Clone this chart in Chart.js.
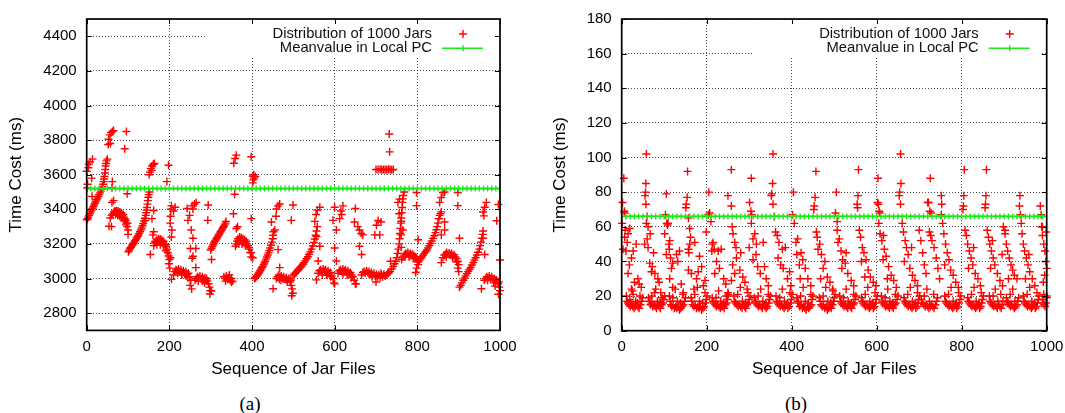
<!DOCTYPE html>
<html><head><meta charset="utf-8">
<script src="https://cdn.jsdelivr.net/npm/chart.js@4.4.1/dist/chart.umd.min.js"></script>
<style>
html,body{margin:0;padding:0;background:#fff;width:1065px;height:413px;overflow:hidden}
.wrap{position:absolute;top:0}
#wa{left:0;width:532px;height:385px}
#wb{left:532px;width:540px;height:385px}
.cap{position:absolute;top:393px;line-height:22px;font-family:"Liberation Serif","DejaVu Serif",serif;font-size:19px;color:#000;transform:translateX(-50%)}
</style></head><body>
<div class="wrap" id="wa"><canvas id="ca" width="532" height="385"></canvas></div>
<div class="wrap" id="wb"><canvas id="cb" width="540" height="385"></canvas></div>
<div class="cap" style="left:250px">(a)</div>
<div class="cap" style="left:796px">(b)</div>
<script>
const seqTicks = [0,200,400,600,800,1000];
const costTicksA = [2800,3000,3200,3400,3600,3800,4000,4200,4400];
const costTicksB = [0,20,40,60,80,100,120,140,160,180];
const seriesNames = ["Distribution of 1000 Jars","Meanvalue in Local PC"];
const meanA = 3520;
const meanB = 66;
const meanSeq = [0,10,20,30,40,50,60,70,80,90,100,110,120,130,140,150,160,170,180,190,200,210,220,230,240,250,260,270,280,290,300,310,320,330,340,350,360,370,380,390,400,410,420,430,440,450,460,470,480,490,500,510,520,530,540,550,560,570,580,590,600,610,620,630,640,650,660,670,680,690,700,710,720,730,740,750,760,770,780,790,800,810,820,830,840,850,860,870,880,890,900,910,920,930,940,950,960,970,980,990,1000];

const jarCostA = [
[0,3620],[1,3525],[2,3545],[4,3640],[5,3660],[8,3675],[14,3690],[12,3580],[13,3475],
[0,3340],[2,3345],[4,3355],[6,3365],[8,3375],[10,3385],[12,3395],[14,3405],[16,3415],[18,3425],[20,3435],[22,3445],[24,3455],[26,3465],[28,3475],[30,3485],[32,3495],[34,3505],[36,3515],[38,3530],[40,3545],[41,3560],[42,3575],[43,3590],[44,3610],[45,3630],[46,3650],[47,3665],[48,3680],[50,3690],
[52,3775],[53,3805],[56,3830],[59,3843],[62,3850],[65,3855],[57,3780],
[61,3525],[62,3560],[61,3440],[65,3450],[54,3302],[60,3300],
[57,3350],[60,3365],[63,3375],[66,3385],[68,3390],[70,3385],[72,3392],[74,3380],[76,3390],[78,3375],[80,3385],[82,3370],[84,3380],[86,3365],[88,3370],[90,3355],[92,3345],[94,3335],[96,3320],[98,3300],[70,3370],[75,3365],[80,3360],[85,3350],[90,3335],[95,3310],[100,3280],[100,3255],
[96,3850],[92,3750],[98,3490],[99,3320],
[101,3155],[103,3165],[105,3175],[107,3180],[109,3188],[111,3195],[113,3202],[115,3210],[117,3218],[119,3226],[121,3234],[123,3242],[125,3250],[127,3260],[129,3270],[131,3280],[133,3292],[135,3305],[137,3318],[139,3332],[141,3348],[143,3365],[144,3380],[145,3395],[146,3410],[147,3430],[148,3450],[149,3470],[150,3485],[152,3500],
[151,3600],[153,3615],[155,3635],[158,3650],[161,3660],[164,3665],[157,3625],
[198,3655],[194,3560],[142,3336],[162,3393],[158,3346],[162,3270],[160,3252],[154,3139],
[162,3190],[164,3205],[166,3215],[168,3210],[170,3225],[172,3215],[174,3230],[176,3220],[178,3228],[180,3212],[182,3222],[184,3208],[186,3215],[188,3200],[190,3195],[192,3185],[194,3170],[196,3150],[198,3130],[200,3110],[170,3195],[178,3195],[186,3190],[192,3160],[199,3085],[201,3060],
[202,3320],[203,3360],[204,3400],[205,3420],[206,3280],[205,3240],[203,3120],[205,2995],[214,3412],[210,3390],
[210,3020],[213,3040],[216,3050],[219,3045],[222,3055],[225,3040],[228,3050],[231,3035],[234,3045],[237,3030],[240,3040],[243,3025],[246,3030],[249,3010],[252,2990],[250,2960],[254,2940],[220,3030],[230,3020],[240,3015],[245,3005],
[245,3336],[249,3365],[261,3431],[265,3440],[253,3280],[257,3233],[264,3173],[257,3129],[264,3063],[257,3402],[243,3405],[255,3420],[251,3173],[255,3117],
[262,2990],[265,3000],[268,3010],[271,3005],[274,3015],[277,3000],[280,3010],[283,2995],[286,3005],[289,2990],[292,2985],[295,2970],[297,2950],[299,2930],[298,2910],[302,2928],[270,2985],[280,2985],[290,3000],[285,2975],
[293,3336],[302,3110],[294,3425],
[300,3165],[302,3175],[304,3185],[306,3195],[308,3205],[310,3215],[312,3222],[314,3230],[316,3238],[318,3246],[320,3254],[322,3262],[324,3270],[326,3278],[328,3286],[330,3294],[332,3302],[334,3310],[336,3320],[337,3330],
[332,3010],[335,3000],[338,3015],[341,2995],[344,3005],[347,2990],[350,3000],[353,2985],[336,2985],[345,3020],[350,2980],
[362,3713],[356,3666],[359,3694],[358,3487],[355,3374],[362,3289],[365,3299],[360,3186],
[362,3200],[364,3215],[366,3230],[368,3220],[370,3240],[372,3225],[374,3235],[376,3220],[378,3230],[380,3215],[382,3225],[384,3205],[386,3215],[388,3200],[390,3190],[392,3180],[394,3170],[396,3150],[398,3125],[368,3200],[376,3200],[384,3190],
[398,3704],[402,3591],[404,3600],[402,3553],[398,3346],[398,3148],[402,3120],[405,3580],[408,3590],[403,3570],
[406,3000],[408,3005],[410,3010],[412,3015],[414,3022],[416,3030],[418,3038],[420,3046],[422,3054],[424,3062],[426,3070],[428,3080],[430,3090],[432,3100],[434,3112],[436,3124],[438,3136],[440,3148],[442,3162],[444,3176],[446,3192],[448,3210],[450,3230],[451,3250],[452,3270],
[459,3402],[463,3420],[467,3431],[447,3327],[463,3167],[467,3063],[451,2941],[455,3280],[458,3360],
[459,3000],[462,3010],[465,3020],[468,3010],[471,3015],[474,3000],[477,3010],[480,2995],[483,3005],[486,2990],[489,3000],[492,2980],[495,2960],[497,2940],[499,2915],[496,2900],[470,2990],[485,2980],[494,2990],[466,2995],
[499,3425],[495,3336],
[499,3015],[502,3025],[505,3032],[508,3040],[511,3048],[514,3056],[517,3064],[520,3072],[523,3082],[526,3092],[529,3102],[532,3114],[535,3126],[538,3140],[541,3154],[544,3170],[547,3188],[550,3208],[552,3228],[554,3250],[556,3275],
[552,3330],[555,3370],[558,3395],[564,3412],[556,3242],[564,3186],[560,3101],[556,2992],[558,3300],
[560,3030],[563,3045],[566,3050],[569,3040],[572,3055],[575,3045],[578,3050],[581,3035],[584,3045],[587,3030],[590,3035],[593,3015],[596,3000],[598,2975],[570,3020],[580,3020],[590,3010],
[600,3412],[596,3336],[604,3280],[600,3176],[604,3101],[600,2969],[612,3346],[615,3390],[620,3420],[617,3370],
[608,3030],[611,3045],[614,3050],[617,3040],[620,3055],[623,3045],[626,3050],[629,3035],[632,3045],[635,3030],[638,3035],[641,3020],[644,3010],[647,2990],[650,2970],[620,3025],[630,3020],[640,3005],
[648,3327],[650,3405],[656,3300],[660,3280],[664,3260],[668,3252],[660,3186],[665,3139],[652,2969],
[665,3020],[668,3035],[671,3040],[674,3030],[677,3045],[680,3035],[683,3040],[686,3025],[689,3035],[692,3020],[695,3030],[698,3015],[701,3025],[704,3010],[707,3020],[710,3005],[713,3020],[716,3010],[719,3025],[722,3015],[725,3020],[728,3030],[700,2980],[690,3010],[712,3030],
[701,3308],[712,3327],[697,3252],[709,3252],[705,3335],
[700,3630],[705,3630],[710,3632],[714,3628],[718,3630],[722,3630],[726,3628],[730,3632],[734,3630],[738,3628],[742,3630],[732,3835],[733,3732],
[730,3030],[734,3040],[738,3055],[742,3070],[745,3085],[748,3100],[750,3120],[752,3145],[754,3170],[756,3200],[757,3230],[758,3260],[759,3290],[760,3320],[761,3350],[762,3380],[763,3410],[764,3440],[765,3460],[766,3480],[768,3500],
[757,3459],[753,3440],[756,3374],[761,3331],[765,3280],[761,3252],[761,3180],[735,3100],
[762,3110],[765,3125],[768,3135],[771,3145],[774,3140],[777,3150],[780,3140],[783,3145],[786,3135],[789,3140],[792,3130],[795,3125],[798,3115],[800,3100],[802,3080],[770,3125],[780,3125],[790,3115],[798,3060],[796,3035],
[798,3497],[798,3421],[802,3224],
[802,3095],[805,3105],[808,3115],[811,3125],[814,3135],[817,3145],[820,3155],[823,3165],[826,3177],[829,3190],[832,3203],[835,3217],[838,3232],[841,3248],[844,3265],[846,3282],[848,3300],[850,3320],[852,3345],[854,3365],[856,3375],[858,3385],
[862,3497],[858,3468],[854,3440],[866,3327],[866,3280],[858,3252],[858,3092],[898,3421],[902,3233],[898,3497],[866,3500],
[862,3120],[865,3135],[868,3140],[871,3150],[874,3140],[877,3148],[880,3138],[883,3145],[886,3132],[889,3138],[892,3125],[895,3115],[898,3100],[900,3080],[870,3125],[885,3120],[895,3095],[898,3060],[900,3040],
[902,2950],[905,2960],[908,2975],[911,2990],[914,3002],[917,3015],[920,3028],[923,3040],[926,3052],[929,3064],[932,3078],[935,3092],[938,3106],[941,3120],[944,3136],[947,3152],[950,3170],[952,3190],[954,3210],[956,3232],[958,3255],[959,3275],
[959,3384],[963,3412],[967,3440],[959,3233],[963,3139],[955,2941],[961,3362],[992,3334],[996,3428],[1000,3107],[996,2909],
[962,2990],[965,3000],[968,3010],[971,3005],[974,3015],[977,3000],[980,3010],[983,2995],[986,3000],[989,2985],[992,2990],[995,2970],[998,2950],[1000,2930],[970,2990],[985,2975],[997,2980],[988,2956]
];

const jarCostB = [
[1,62],[2,74],[5,88],[6,69],[7,68],
[8,58],[15,56],[13,51],[7,54],[19,59],[3,47],[10,46],[15,33],[27,46],[23,42],[23,24],[27,21],[38,30],[41,27],[46,25],[34,50],[18,38],[30,28],
[11,20],[13,17],[15,16],[17,15],[20,14],[23,15],[26,14],[29,13],[32,14],[35,15],[38,14],[41,13],[44,15],[47,17],[49,19],[19,18],[33,17],[43,20],[25,23],[21,16],[37,16],
[58,102],[57,85],[56,80],[55,78],[57,73],[60,66],
[54,50],[60,53],[58,62],[62,60],[67,56],[66,39],[70,34],[72,37],[78,33],[85,30],[88,28],[75,45],[62,48],[80,24],[92,22],
[63,19],[66,17],[68,15],[70,16],[73,14],[76,15],[79,14],[82,13],[85,15],[88,14],[91,13],[94,15],[97,16],[99,18],[101,20],[71,20],[84,17],[95,19],[77,22],[90,16],
[103,67],[105,79],[106,62],[108,61],
[101,56],[109,62],[111,50],[113,52],[112,47],[105,44],[115,42],[117,36],[120,39],[129,44],[136,46],[132,40],[113,30],[120,25],[140,27],[145,22],
[112,20],[114,17],[116,15],[118,14],[121,15],[124,13],[127,14],[130,13],[133,14],[136,12],[139,13],[142,14],[145,15],[148,17],[150,19],[120,19],[131,17],[144,21],[126,24],[138,16],
[155,92],[154,77],[152,73],[151,71],[157,65],
[160,59],[162,54],[160,50],[157,47],[158,45],[157,35],[164,33],[172,51],[180,34],[176,30],[183,43],[188,37],[192,26],[196,29],[170,24],
[163,19],[165,17],[167,15],[170,14],[173,15],[176,13],[179,14],[182,13],[185,14],[188,12],[191,13],[194,14],[197,16],[199,18],[201,20],[172,21],[183,17],[196,22],[178,25],[190,16],
[205,80],[204,67],[207,68],[210,63],
[199,57],[215,51],[213,50],[212,46],[218,47],[227,46],[223,40],[234,47],[230,36],[219,33],[240,30],[245,27],[250,22],
[213,19],[215,17],[217,16],[220,15],[223,14],[226,15],[229,14],[232,13],[235,14],[238,14],[241,13],[244,15],[247,16],[249,18],[251,21],[222,19],[233,17],[246,20],[228,23],[240,16],
[250,78],[258,93],[258,72],[260,60],
[262,56],[266,51],[269,48],[261,38],[266,33],[258,29],[270,42],[278,35],[285,31],[290,28],[295,24],[280,45],
[264,20],[266,17],[268,16],[271,15],[274,14],[277,15],[280,14],[283,13],[286,15],[289,14],[292,13],[295,15],[298,16],[300,18],[302,20],[273,21],[284,17],[297,22],[279,25],[291,16],
[305,88],[301,74],[304,69],[306,67],
[305,62],[313,56],[309,53],[317,50],[333,51],[309,41],[316,44],[320,37],[326,33],[340,30],[336,37],[345,26],[300,48],
[312,19],[314,17],[316,16],[319,15],[322,14],[325,15],[328,14],[331,13],[334,15],[337,14],[340,13],[343,14],[346,16],[348,18],[350,20],[321,20],[332,17],[345,21],[327,24],[339,16],
[356,102],[355,85],[353,79],[352,78],[356,73],[359,66],
[362,57],[366,55],[370,51],[378,47],[385,48],[374,38],[380,36],[390,30],[395,34],[398,26],[368,42],
[363,20],[365,17],[367,16],[370,15],[373,14],[376,15],[379,14],[382,13],[385,14],[388,15],[391,13],[394,14],[397,16],[399,18],[401,21],[372,19],[383,17],[396,22],[378,24],[390,16],
[404,80],[402,67],[406,62],
[410,51],[414,53],[422,45],[418,38],[426,41],[432,36],[438,30],[445,26],[420,30],[412,44],
[412,19],[414,17],[416,16],[419,14],[422,15],[425,13],[428,14],[431,13],[434,12],[437,14],[440,13],[443,14],[446,15],[448,18],[450,20],[421,20],[432,17],[445,21],[427,25],[439,16],
[457,92],[455,77],[453,72],[452,70],
[458,57],[460,54],[462,47],[466,50],[470,44],[474,36],[478,40],[484,31],[490,28],[496,24],[468,30],
[465,19],[467,17],[469,15],[472,14],[475,15],[478,13],[481,14],[484,12],[487,13],[490,14],[493,13],[496,15],[498,17],[500,19],[502,21],[474,20],[485,17],[497,23],[480,25],[492,16],
[505,80],[503,68],[507,63],
[507,58],[509,51],[512,53],[516,46],[520,41],[518,36],[526,39],[532,33],[540,29],[546,26],[528,45],
[513,20],[515,17],[517,16],[520,15],[523,14],[526,15],[529,14],[532,13],[535,15],[538,14],[541,13],[544,15],[547,16],[549,18],[551,20],[522,19],[533,17],[546,21],[528,24],[540,16],
[557,93],[556,78],[554,73],[555,71],
[559,58],[562,54],[566,48],[570,45],[564,40],[575,41],[580,35],[585,31],[592,28],[598,26],[572,31],
[564,19],[566,17],[568,16],[571,15],[574,14],[577,15],[580,14],[583,13],[586,14],[589,15],[592,13],[595,14],[597,16],[599,18],[601,20],[573,21],[584,17],[596,22],[579,25],[591,16],
[603,88],[602,74],[604,73],[606,69],[607,68],
[605,62],[608,56],[612,52],[616,55],[618,47],[615,41],[622,43],[628,37],[634,32],[640,29],[646,25],[625,30],
[611,20],[613,17],[615,16],[618,15],[621,14],[624,15],[627,14],[630,13],[633,15],[636,14],[639,13],[642,15],[645,16],[648,18],[650,20],[620,19],[631,17],[644,21],[626,24],[638,16],
[656,102],[657,85],[654,80],[653,78],[656,73],
[660,62],[663,57],[667,52],[670,48],[665,40],[674,44],[678,36],[684,32],[690,29],[696,26],[682,48],
[664,19],[666,17],[668,16],[671,15],[674,14],[677,15],[680,14],[683,13],[686,14],[689,15],[692,13],[695,14],[697,16],[699,18],[701,20],[673,21],[684,17],[696,22],[679,25],[691,16],
[726,88],[720,74],[722,74],[725,69],[728,68],
[700,58],[704,52],[708,45],[712,38],[716,33],[724,57],[727,55],[730,52],[735,48],[740,42],[744,36],[748,30],
[705,18],[708,16],[711,15],[714,14],[717,15],[720,14],[723,13],[726,14],[729,15],[732,14],[735,13],[738,15],[741,17],[743,19],[712,20],[724,17],[734,21],[718,24],
[752,78],[753,73],[752,67],
[755,62],[758,56],[762,50],[766,45],[770,41],[774,35],[780,32],[786,28],[792,25],[760,38],
[760,20],[762,17],[764,16],[767,15],[770,14],[773,15],[776,14],[779,13],[782,14],[785,15],[788,13],[791,14],[794,16],[796,18],[798,20],[769,21],[780,17],[793,22],[775,25],[787,16],
[806,93],[805,78],[804,72],[803,70],
[808,58],[811,55],[814,50],[818,46],[822,42],[816,36],[826,38],[832,33],[838,30],[844,26],[828,48],
[814,19],[816,17],[818,16],[821,15],[824,14],[827,15],[830,14],[833,13],[836,14],[839,15],[842,13],[845,14],[847,16],[849,18],[851,20],[823,21],[834,17],[846,22],[829,25],[841,16],
[858,93],[857,78],[856,73],[855,71],
[860,58],[863,54],[866,50],[870,46],[874,42],[868,36],[878,38],[884,33],[890,29],[896,26],[872,52],
[865,20],[867,17],[869,16],[872,15],[875,14],[878,15],[881,14],[884,13],[887,15],[890,14],[893,13],[895,15],[897,17],[874,20],[885,17],[892,21],[879,24],
[898,60],[902,58],
[902,56],[905,50],[908,46],[912,42],[916,38],[920,35],[924,32],[930,30],[910,30],[895,44],
[905,19],[907,17],[909,16],[912,15],[915,14],[918,15],[921,14],[924,13],[927,14],[930,15],[932,17],[934,19],[914,21],[925,17],[920,24],
[937,78],[936,72],[938,67],
[940,62],[942,56],[945,50],[948,46],[952,42],[956,38],[960,34],[966,30],[972,26],[950,30],[958,44],
[945,20],[947,17],[949,16],[952,15],[955,14],[958,15],[961,14],[964,13],[967,14],[970,15],[973,13],[976,14],[978,16],[980,18],[982,20],[954,21],[965,17],[977,22],[960,25],[972,16],
[985,72],[987,67],[990,60],
[988,60],[990,55],[993,50],[996,46],[998,40],[1000,36],[995,32],[999,57],[1000,20],[992,28],
[990,18],[992,16],[994,15],[996,14],[998,16],[1000,19],[993,21]
];

const RED = '#ff0000';
const GREEN = 'rgb(30,230,30)';
const SANS = '"Liberation Sans", Arial, Helvetica, sans-serif';

const gnuFrame = {
  id: 'gnuFrame',
  beforeDatasetsDraw(chart) {
    const {ctx, chartArea: a} = chart;
    ctx.save();
    ctx.fillStyle = '#fff';
    ctx.fillRect(a.right - 293, a.top + 1, 288, 37);
    ctx.restore();
  },
  afterDraw(chart) {
    const {ctx, chartArea: a, scales} = chart;
    ctx.save();
    ctx.strokeStyle = '#000';
    ctx.lineWidth = 1;
    scales.x.ticks.forEach(t => {
      const px = Math.round(scales.x.getPixelForValue(t.value)) + 0.5;
      ctx.beginPath();
      ctx.moveTo(px, a.bottom); ctx.lineTo(px, a.bottom - 5);
      ctx.moveTo(px, a.top); ctx.lineTo(px, a.top + 5);
      ctx.stroke();
    });
    scales.y.ticks.forEach(t => {
      const py = Math.round(scales.y.getPixelForValue(t.value)) + 0.5;
      ctx.beginPath();
      ctx.moveTo(a.left, py); ctx.lineTo(a.left + 5, py);
      ctx.moveTo(a.right, py); ctx.lineTo(a.right - 5, py);
      ctx.stroke();
    });
    ctx.lineWidth = 1.7;
    ctx.strokeRect(a.left, a.top, a.right - a.left, a.bottom - a.top);
    // key
    ctx.fillStyle = '#111';
    ctx.font = '14.8px ' + SANS;
    ctx.textAlign = 'right';
    ctx.textBaseline = 'middle';
    const r1 = a.top + 15, r2 = a.top + 29.3;
    ctx.fillText(seriesNames[0], a.right - 68, r1);
    ctx.fillText(seriesNames[1], a.right - 68, r2);
    const mx = a.right - 37;
    ctx.strokeStyle = RED; ctx.lineWidth = 1.4;
    ctx.beginPath();
    ctx.moveTo(mx - 4, r1); ctx.lineTo(mx + 4, r1);
    ctx.moveTo(mx, r1 - 4); ctx.lineTo(mx, r1 + 4);
    ctx.stroke();
    ctx.strokeStyle = GREEN; ctx.lineWidth = 1.5;
    ctx.beginPath();
    ctx.moveTo(a.right - 58, r2); ctx.lineTo(a.right - 17, r2);
    ctx.moveTo(mx, r2 - 3); ctx.lineTo(mx, r2 + 3);
    ctx.stroke();
    ctx.restore();
  }
};

function makeChart(id, pts, mean, yMin, yMax, yTicks, pad, yTitlePad, yAxisW) {
  const xAxisH = 385 - pad.bottomPlot;
  return new Chart(document.getElementById(id), {
    data: {
      datasets: [
        {
          type: 'line',
          label: seriesNames[1],
          data: meanSeq.map(s => ({x: s, y: mean})),
          borderColor: GREEN,
          borderWidth: 1.8,
          pointStyle: 'cross',
          pointRadius: 3,
          pointBorderColor: GREEN,
          pointBorderWidth: 1.4,
          order: 0
        },
        {
          type: 'scatter',
          label: seriesNames[0],
          data: pts.map(p => ({x: p[0], y: p[1]})),
          pointStyle: 'cross',
          pointRadius: 4,
          pointBorderColor: RED,
          pointBackgroundColor: RED,
          pointBorderWidth: 1.4,
          clip: false,
          order: 1
        }
      ]
    },
    options: {
      responsive: false,
      animation: false,
      events: [],
      layout: {padding: {left: 0, right: pad.right, top: pad.top, bottom: 0}},
      plugins: {legend: {display: false}, tooltip: {enabled: false}},
      scales: {
        x: {
          type: 'linear', min: 0, max: 1000,
          afterBuildTicks: s => { s.ticks = seqTicks.map(v => ({value: v})); },
          afterFit: s => { s.height = xAxisH; },
          ticks: {padding: 7.3, maxRotation: 0, autoSkip: false, color: '#000',
            font: {family: SANS, size: 15}, callback: v => String(v)},
          grid: {color: 'rgba(0,0,0,0.7)', lineWidth: 1, drawTicks: false, borderDash: [1, 2]},
          border: {display: false, dash: [1, 2]},
          title: {display: true, text: 'Sequence of Jar Files', color: '#000',
            font: {family: SANS, size: 17}, padding: {top: 0, bottom: 5.8}}
        },
        y: {
          type: 'linear', min: yMin, max: yMax,
          afterBuildTicks: s => { s.ticks = yTicks.map(v => ({value: v})); },
          afterFit: s => { s.width = yAxisW; },
          ticks: {padding: 10, color: '#000', font: {family: SANS, size: 15}, callback: v => String(v)},
          grid: {color: 'rgba(0,0,0,0.7)', lineWidth: 1, drawTicks: false, borderDash: [1, 2]},
          border: {display: false, dash: [1, 2]},
          title: {display: true, text: 'Time Cost (ms)', color: '#000',
            font: {family: SANS, size: 17}, padding: {top: yTitlePad, bottom: 0}}
        }
      }
    },
    plugins: [gnuFrame]
  });
}

makeChart('ca', jarCostA, meanA, 2700, 4500, costTicksA, {right: 32, top: 11.8, bottomPlot: 330.4}, 5.9, 86.7);
makeChart('cb', jarCostB, meanB, 0, 180, costTicksB, {right: 25.3, top: 12.7, bottomPlot: 330.7}, 18.5, 89.7);
</script>
</body></html>
